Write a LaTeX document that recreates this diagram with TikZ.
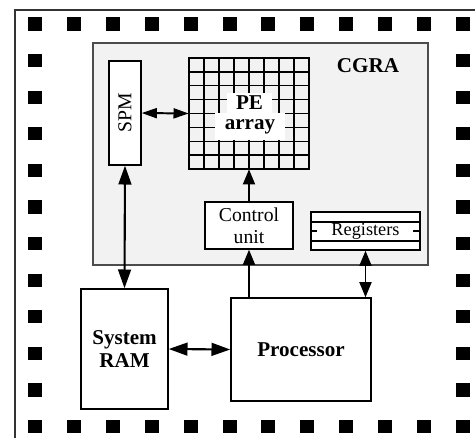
\documentclass[tikz,border=0pt]{standalone}
\usepackage{fontspec}
\setmainfont{Liberation Serif}
\usetikzlibrary{calc,arrows.meta}

\newcommand{\lblfont}{\fontsize{14}{15.6}\selectfont}
\newcommand{\lblbold}{\fontsize{15}{17}\selectfont\bfseries}

\tikzset{
	blk/.style={draw=black, line width=1pt, fill=white, inner sep=0pt, align=center},
	pad/.style={fill=black, minimum width=3.5mm, minimum height=3.3mm, inner sep=0pt},
	bigarrow/.style={line width=1.5pt, {Triangle[length=4.7mm,width=3.2mm]}-{Triangle[length=4.7mm,width=3.2mm]}},
	midarrow/.style={line width=1.4pt, {Triangle[length=3.8mm,width=3mm]}-{Triangle[length=3.8mm,width=3mm]}},
	smallarrow/.style={line width=1.4pt, {Triangle[length=3.8mm,width=2.5mm]}-{Triangle[length=3.8mm,width=2.5mm]}},
	uparrow/.style={line width=1.4pt, -{Triangle[length=3.8mm,width=3mm]}},
}

\begin{document}
\begin{tikzpicture}[x=0.25mm,y=-0.25mm]
			\useasboundingbox (0,0) rectangle (475,438);
			\draw[line width=1pt, black!80] (475,10) -- (15,10) -- (15,438);
			
			\foreach \i in {0,1, ...,11}{
				\node[pad] (padt\i) at ({35 + 38.9*\i},24) {};
				\node[pad] (padb\i) at ({35 + 38.9*\i},426.5) {};
			}
			\foreach \j in {1,2, ...,10}{
				\node[pad] (padl\j) at (35,{24 + 36.59*\j}) {};
				\node[pad] (padr\j) at (463,{24 + 36.59*\j}) {};
			}
			
			\node[draw=black!70, line width=1pt, fill=black!5, minimum width=83.75mm, minimum height=55.5mm] (cgra) at (260.5,154) {};
			\node[font=\lblbold] (cgralbl) at (368,66) {CGRA};
			
			\node[blk, minimum width=8mm, minimum height=26mm] (spm) at (125,113) {};
			\node[rotate=90, font=\lblfont] (spmlbl) at (spm.center) {SPM};
			
			\coordinate (g0) at (189,58);
			\foreach \i in {0,1, ...,8}{
				\draw[line width=0.9pt, line cap=rect] ($(g0)+(15*\i,0)$) -- ++(0,111);
				\draw[line width=0.9pt, line cap=rect] ($(g0)+(0,13.875*\i)$) -- ++(120,0);
			}
			\node[minimum width=30mm, minimum height=27.75mm, inner sep=0pt] (pe) at (249,113.5) {};
			\node[fill=white, inner sep=0pt, minimum width=11.25mm, minimum height=5mm, font=\lblbold] (petxt) at (249.5,103) {PE};
			\node[fill=white, inner sep=0pt, minimum width=17.5mm, minimum height=6.75mm, font=\lblbold] (arraytxt) at (250,126.8) {array};
			
			\node[blk, minimum width=22mm, minimum height=11.75mm, font=\lblfont] (ctrl) at (249,225.5) {Control\\unit};
			
			\node[blk, minimum width=27.25mm, minimum height=9.5mm, font=\fontsize{13}{15}\selectfont] (reg) at (365.5,231) {Registers};
			\draw[line width=0.9pt] ([yshift=2.25mm]reg.west) -- ([yshift=2.25mm]reg.east);
			\draw[line width=0.9pt] ([yshift=-2.5mm]reg.west) -- ([yshift=-2.5mm]reg.east);
			\draw[line width=0.9pt] (reg.west) -- ++(7,0);
			\draw[line width=0.9pt] (reg.east) -- ++(-8,0);
			
			\node[blk, minimum width=21.75mm, minimum height=30mm, font=\lblbold] (ram) at (124.5,349) {System\\RAM};
			\node[blk, minimum width=35mm, minimum height=25.75mm, font=\lblbold] (proc) at (301,349.5) {Processor};
			
			\draw[smallarrow] (spm.east) -- (pe.west);
			\draw[bigarrow] (spm.south) -- (ram.north);
			\draw[bigarrow] (ram.east) -- (proc.west);
			\draw[uparrow] (ctrl.south |- proc.north) -- (ctrl.south);
			\draw[uparrow] (ctrl.north) -- (pe.south);
			\draw[midarrow] (reg.south) -- (reg.south |- proc.north);
		\end{tikzpicture}
\end{document}
